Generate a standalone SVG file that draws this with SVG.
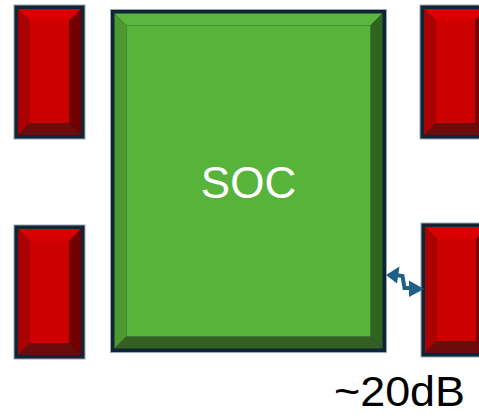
<svg xmlns="http://www.w3.org/2000/svg" width="479" height="414" viewBox="0 0 479 414">
  <style>
    .frame { fill: #0e2536; stroke: #9aa8b2; stroke-width: 1; }
    .r-face { fill: #cc0000; }
    .r-top { fill: #d90000; }
    .r-left { fill: #aa0000; }
    .r-right { fill: #730000; }
    .r-bottom { fill: #6b0b0b; }
    .g-face { fill: #57b33a; }
    .g-top { fill: #5bb73c; }
    .g-left { fill: #4b9a30; }
    .g-right { fill: #2f6521; }
    .g-bottom { fill: #355f23; }
    .label { font-family: "Liberation Sans", Arial, sans-serif; text-anchor: middle; }
    .link { fill: none; stroke: #1f5f86; stroke-width: 4; stroke-linejoin: miter; }
    .head { fill: #1f5f86; }
  </style>
  <defs>
    <!-- bevelled red block, 71 x 134 -->
    <g id="redBlock">
      <rect class="frame" x="0" y="0" width="71" height="134"/>
      <polygon class="r-top" points="4,4 67,4 55,16 16,16"/>
      <polygon class="r-left" points="4,4 16,16 16,118 4,130"/>
      <polygon class="r-right" points="67,4 67,130 55,118 55,16"/>
      <polygon class="r-bottom" points="4,130 16,118 55,118 67,130"/>
      <rect class="r-face" x="16" y="16" width="39" height="102"/>
    </g>
  </defs>

  <g id="block-top-left"><use href="#redBlock" x="14" y="5"/></g>
  <g id="block-bottom-left"><use href="#redBlock" x="14" y="225"/></g>
  <g id="block-top-right"><use href="#redBlock" x="420" y="5"/></g>
  <g id="block-bottom-right"><use href="#redBlock" x="421" y="223"/></g>

  <g id="soc">
    <rect class="frame" x="110.5" y="9.5" width="276" height="343"/>
    <polygon class="g-top" points="114.5,13.5 382.5,13.5 370.5,25.5 126.5,25.5"/>
    <polygon class="g-left" points="114.5,13.5 126.5,25.5 126.5,336.5 114.5,348.5"/>
    <polygon class="g-right" points="382.5,13.5 382.5,348.5 370.5,336.5 370.5,25.5"/>
    <polygon class="g-bottom" points="114.5,348.5 126.5,336.5 370.5,336.5 382.5,348.5"/>
    <rect class="g-face" x="126.5" y="25.5" width="244" height="311"/>
    <text class="label" x="248.5" y="198" font-size="44" fill="#ffffff">SOC</text>
  </g>

  <g id="connectors">
    <!-- zig-zag double-headed link between SOC and the lower right block -->
    <polyline class="link" points="395,275 402.5,276 404.5,288 411,288"/>
    <polygon class="head" points="386,275 399.5,266.5 397,283.5"/>
    <polygon class="head" points="424,289 409,280.5 409,297"/>
  </g>

  <g id="attenuation">
    <text class="label" x="399.5" y="406" font-size="42" fill="#000000" textLength="131" lengthAdjust="spacingAndGlyphs">~20dB</text>
  </g>
</svg>
